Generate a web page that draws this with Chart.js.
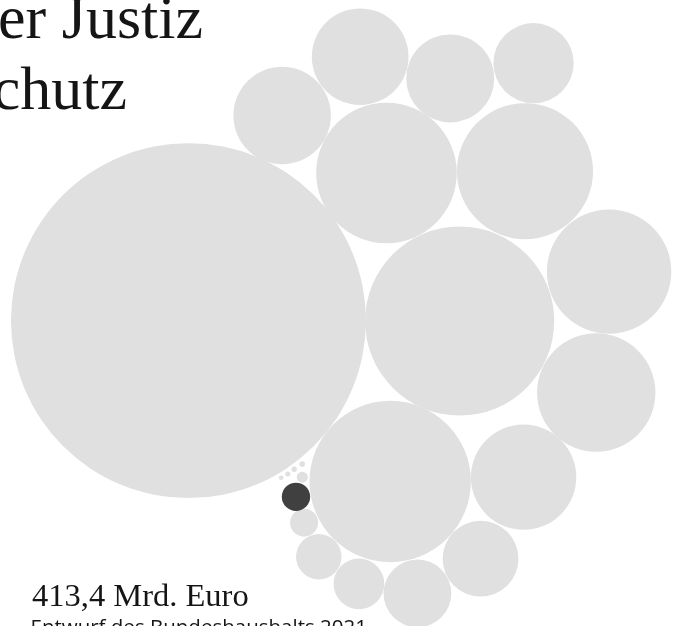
<!DOCTYPE html>
<html lang="de">
<head>
<meta charset="utf-8">
<title>Bundeshaushalt 2021 – Justiz und Verbraucherschutz</title>
<script src="https://cdn.jsdelivr.net/npm/chart.js"></script>
<style>
  html, body { margin: 0; padding: 0; background: #ffffff; overflow: hidden; }
  body { width: 678px; height: 626px; position: relative; }
  #wrap { position: absolute; left: 0; top: 0; width: 678px; height: 626px; }
  .t { position: absolute; white-space: nowrap; line-height: 1; color: #151515; }
  .title { font-family: "Liberation Serif", serif; font-size: 62px; text-align: right; }
  #t1 { right: 475px; top: -14.4px; }
  #t2 { right: 551px; top: 56.6px; }
  #total { left: 32px; top: 578.8px; font-family: "Liberation Serif", serif; font-size: 32.5px; }
  #sub { left: 30.5px; top: 616.4px; font-family: "Open Sans", sans-serif; font-size: 20.5px; }
</style>
</head>
<body>
<div id="wrap"><canvas id="c"></canvas></div>
<div class="t title" id="t1">Bundesministerium der Justiz</div>
<div class="t title" id="t2">und für Verbraucherschutz</div>
<div class="t" id="total">413,4 Mrd. Euro</div>
<div class="t" id="sub">Entwurf des Bundeshaushalts 2021</div>
<script>
// Einzelpläne des Haushaltsentwurfs 2021 (Mrd. Euro), Werte aus der Kreisfläche geschätzt
const categories = [
  "Arbeit und Soziales", "Verteidigung", "Verkehr und digitale Infrastruktur",
  "Allgemeine Finanzverwaltung", "Gesundheit", "Bildung und Forschung",
  "Inneres, Bau und Heimat", "Bundesschuld", "Wirtschaftliche Zusammenarbeit und Entwicklung",
  "Familie, Senioren, Frauen und Jugend", "Wirtschaft und Energie", "Finanzen",
  "Ernährung und Landwirtschaft", "Auswärtiges Amt", "Bundeskanzlerin und Bundeskanzleramt",
  "Umwelt, Naturschutz und nukleare Sicherheit", "Deutscher Bundestag",
  "Justiz und Verbraucherschutz", "Bundesrechnungshof", "Bundespräsident und Bundespräsidialamt",
  "Bundesverfassungsgericht", "Bundesrat", "Datenschutz und Informationsfreiheit"
];
const values = [
  164.5, 46.7, 34.0,
  25.8, 24.2, 20.2,
  18.3, 14.5, 12.4,
  12.2, 10.1, 8.4,
  7.5, 6.0, 3.35,
  2.7, 1.02,
  1.05, 0.16, 0.041,
  0.038, 0.033, 0.028
];
// Lage der Kreise im Packungs-Layout (Einheit: Radius eines Kreises = Wurzel des Wertes)
const layoutX = [
  13.62, 33.22, 28.20,
  27.93, 37.94, 44.02,
  43.09, 37.84, 20.39,
  26.03, 32.54, 38.56,
  34.73, 30.17, 25.94,
  23.04, 21.98,
  21.39, 21.85, 21.84,
  21.26, 20.80, 20.32
];
const layoutY = [
  22.08, 22.05, 10.45,
  32.75, 32.88, 25.62,
  16.88, 10.76, 36.91,
  41.16, 39.59, 40.69,
  4.87, 2.36, 3.05,
  5.01, 7.47,
  9.34, 10.76, 11.71,
  11.33, 10.99, 10.72
];
const highlighted = "Justiz und Verbraucherschutz";
const layoutWidth = 49.0;
const layoutHeight = 45.26;

const points = categories.map((name, i) => ({ x: layoutX[i], y: layoutY[i], v: values[i], name }));
const fillFor = ctx => (ctx.raw && ctx.raw.name === highlighted) ? "#404040" : "#e0e0e0";

const chart = new Chart(document.getElementById("c"), {
  type: "bubble",
  data: {
    datasets: [{
      label: "Haushaltsentwurf 2021",
      data: points,
      borderWidth: 0,
      hoverBorderWidth: 0,
      hoverRadius: 0,
      clip: false,
      backgroundColor: fillFor,
      hoverBackgroundColor: fillFor
    }]
  },
  options: {
    responsive: true,
    maintainAspectRatio: false,
    animation: false,
    layout: { padding: 0, autoPadding: false },
    scales: {
      x: { type: "linear", min: 0, max: layoutWidth, display: false },
      y: { type: "linear", min: 0, max: layoutHeight, display: false }
    },
    plugins: {
      legend: { display: false },
      title: { display: false },
      tooltip: {
        callbacks: {
          label: ctx => ctx.raw.name + ": " + ctx.raw.v.toLocaleString("de-DE") + " Mrd. Euro"
        }
      }
    }
  }
});

// Kreisfläche proportional zum Wert: Radius (in Layout-Einheiten) = Wurzel des Wertes,
// in Pixel umgerechnet über die x-Skala des Diagramms
function applyRadii() {
  const s = chart.scales.x;
  const ppu = Math.abs(s.getPixelForValue(1) - s.getPixelForValue(0));
  chart.data.datasets[0].data.forEach(p => { p.r = Math.sqrt(p.v) * ppu; });
  chart.update("none");
}
applyRadii();
</script>
</body>
</html>
